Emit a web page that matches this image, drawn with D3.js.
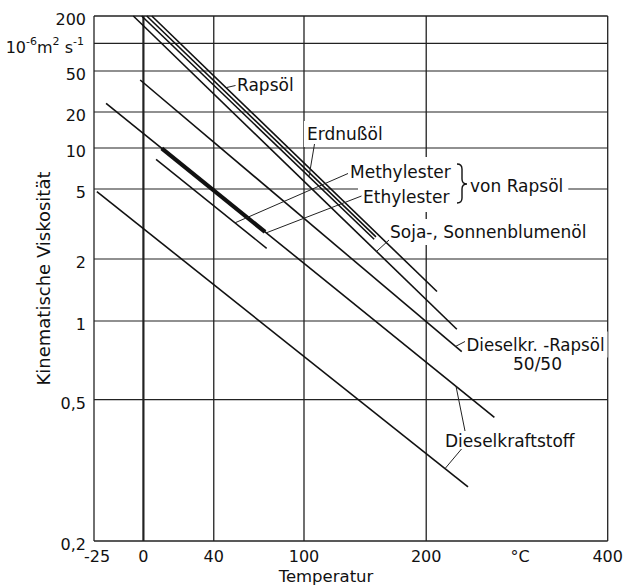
<!DOCTYPE html>
<html><head><meta charset="utf-8">
<script src="https://cdn.jsdelivr.net/npm/d3@7"></script>
<style>
body{margin:0;background:#fff}
svg{display:block}
text{font-family:"DejaVu Sans",sans-serif;fill:#111}
</style>
</head><body>
<svg id="c" width="625" height="587"></svg>
<script>
// ---------- data ----------
const yTickValues = [0.2, 0.5, 1, 2, 5, 10, 20, 50, 100, 200];
const yTickLabels = ["0,2", "0,5", "1", "2", "5", "10", "20", "50", "", "200"];
const xTickValues = [-25, 0, 40, 100, 200, 400];
const xTickLabels = ["-25", "0", "40", "100", "200", "400"];

// each series: two end points, temperature in °C, viscosity in 10^-6 m²/s
const sojaT = [-5.3, 229];     const sojaV = [200, 0.93];
const erdnussT = [-0.9, 154.5];  const erdnussV = [200, 2.59];
const raps1T = [1.8, 156];     const raps1V = [200, 2.67];
const raps2T = [4.5, 210];     const raps2V = [200, 1.39];
const mischT = [-1.7, 233.8];  const mischV = [40.9, 0.763];
const dieselHiT = [-19.1, 267];  const dieselHiV = [24.3, 0.446];
const dieselLoT = [-23.6, 240];  const dieselLoV = [4.83, 0.284];
const ethylT = [9.9, 72.8];    const ethylV = [9.95, 2.85];
const methylT = [6.8, 73.9];   const methylV = [8.26, 2.30];

// ---------- layout ----------
const pLeft = 94, pRight = 607.7, pTop = 16, pBottom = 541;
const yGridPx = [541, 399.7, 321, 259, 189, 148, 112, 71, 43.3, 16];

const svg = d3.select("#c");
const xs = d3.scaleLog().domain([-25 + 273.15, 400 + 273.15]).range([pLeft, pRight]);
const X = t => xs(t + 273.15);
const ys = d3.scaleLinear().domain(yTickValues.map(Math.log10)).range(yGridPx);
const Y = v => ys(Math.log10(v));

// grid
const g = svg.append("g");
g.selectAll("line.h").data(yTickValues).join("line")
  .attr("x1", pLeft).attr("x2", pRight)
  .attr("y1", d => Y(d)).attr("y2", d => Y(d))
  .attr("stroke", "#222").attr("stroke-width", (d,i) => (i===0||i===yTickValues.length-1)?1.5:1.2);
g.selectAll("line.v").data(xTickValues).join("line")
  .attr("x1", d => X(d)).attr("x2", d => X(d))
  .attr("y1", pTop).attr("y2", pBottom)
  .attr("stroke", "#222").attr("stroke-width", d => d === 0 ? 2.2 : 1.3);

// tick labels
svg.selectAll("text.yt").data(yTickValues).join("text")
  .attr("x", 86).attr("y", d => Y(d) + 9)
  .attr("text-anchor", "end").attr("font-size", 16)
  .text((d,i) => yTickLabels[i]);
svg.selectAll("text.xt").data(xTickValues).join("text")
  .attr("x", (d,i) => X(d) + (i===0?3:0)).attr("y", 562)
  .attr("text-anchor", "middle").attr("font-size", 16)
  .text((d,i) => xTickLabels[i]);
svg.append("text").attr("x", 520).attr("y", 562).attr("text-anchor","middle")
  .attr("font-size", 16).text("°C");

// unit label
const u = svg.append("text").attr("x", 84).attr("y", 53).attr("text-anchor","end").attr("font-size", 16);
u.append("tspan").text("10");
u.append("tspan").attr("font-size", 11).attr("dy", -8).text("-6");
u.append("tspan").attr("dy", 8).text("m");
u.append("tspan").attr("font-size", 11).attr("dy", -8).text("2");
u.append("tspan").attr("dy", 8).text(" s");
u.append("tspan").attr("font-size", 11).attr("dy", -8).text("-1");

// axis titles
svg.append("text").attr("transform", "translate(50,278.5) rotate(-90)")
  .attr("text-anchor","middle").attr("font-size", 18).text("Kinematische Viskosität");
svg.append("text").attr("x", 326).attr("y", 582).attr("text-anchor","middle")
  .attr("font-size", 16.5).text("Temperatur");

// ---------- label backgrounds + labels ----------
const bgLayer = svg.append("g");
const lineLayer = svg.append("g");
const annLayer = svg.append("g");

function label(x, y, txt, opts = {}) {
  const t = annLayer.append("text").attr("x", x).attr("y", y).attr("font-size", opts.size || 17)
    .attr("text-anchor", opts.anchor || "start").text(txt);
  if (opts.len) t.attr("textLength", opts.len).attr("lengthAdjust", "spacingAndGlyphs");
  const b = t.node().getBBox();
  const p = opts.pad == null ? 3 : opts.pad;
  bgLayer.append("rect").attr("x", b.x - p).attr("y", b.y - p)
    .attr("width", b.width + 2*p).attr("height", b.height + 2*p).attr("fill", "#fff");
  return t;
}

// ---------- series lines ----------
const series = [
  {T: sojaT, V: sojaV, w: 1.6},
  {T: erdnussT, V: erdnussV, w: 1.6},
  {T: raps1T, V: raps1V, w: 1.6},
  {T: raps2T, V: raps2V, w: 1.6},
  {T: mischT, V: mischV, w: 1.6},
  {T: dieselHiT, V: dieselHiV, w: 1.6},
  {T: dieselLoT, V: dieselLoV, w: 1.6},
  {T: methylT, V: methylV, w: 1.5},
  {T: ethylT, V: ethylV, w: 4.2}
];
lineLayer.selectAll("line").data(series).join("line")
  .attr("x1", d => X(d.T[0])).attr("y1", d => Y(d.V[0]))
  .attr("x2", d => X(d.T[1])).attr("y2", d => Y(d.V[1]))
  .attr("stroke", "#111").attr("stroke-width", d => d.w);

// point on a series at pixel x
function onLine(s, px) {
  const x1 = X(s.T[0]), y1 = Y(s.V[0]), x2 = X(s.T[1]), y2 = Y(s.V[1]);
  return y1 + (px - x1) * (y2 - y1) / (x2 - x1);
}
function leader(x1, y1, x2, y2) {
  annLayer.append("line").attr("x1", x1).attr("y1", y1).attr("x2", x2).attr("y2", y2)
    .attr("stroke", "#222").attr("stroke-width", 1);
}
const [soja, erdnuss, raps1, raps2, misch, dieselHi, dieselLo, methyl, ethyl] = series;

label(237, 91, "Rapsöl");
leader(226, onLine(raps2, 226), 235.5, 85.5);

label(307, 140, "Erdnußöl");
leader(314.5, 144, 309, onLine(erdnuss, 309));

label(350, 178, "Methylester", {pad: 5});
leader(348, 173.5, 235, onLine(methyl, 235));
label(363, 203, "Ethylester", {pad: 5});
leader(361.5, 196, X(ethylT[1]) + 1, Y(ethylV[1]) + 1);
// brace
bgLayer.append("rect").attr("x", 452).attr("y", 158).attr("width", 20).attr("height", 50).attr("fill", "#fff");
annLayer.append("path")
  .attr("d", "M457,164 Q462,164 462,169 L462,179 Q462,184 467,184 Q462,184 462,189 L462,198 Q462,203 457,203")
  .attr("fill", "none").attr("stroke", "#111").attr("stroke-width", 1.4);
label(470, 191.5, "von Rapsöl", {pad: 5});

label(390, 238, "Soja-, Sonnenblumenöl");
leader(389, 240, 376.5, onLine(soja, 376.5));

label(466.5, 350.5, "Dieselkr. -Rapsöl", {len: 138});
leader(455.5, onLine(misch, 455.5), 465, 341.5);
label(537.5, 370, "50/50", {anchor: "middle"});

label(445, 446.5, "Dieselkraftstoff");
leader(465, 431, 456, onLine(dieselHi, 456));
leader(461.5, 449, 445, onLine(dieselLo, 445));
</script>
</body></html>
